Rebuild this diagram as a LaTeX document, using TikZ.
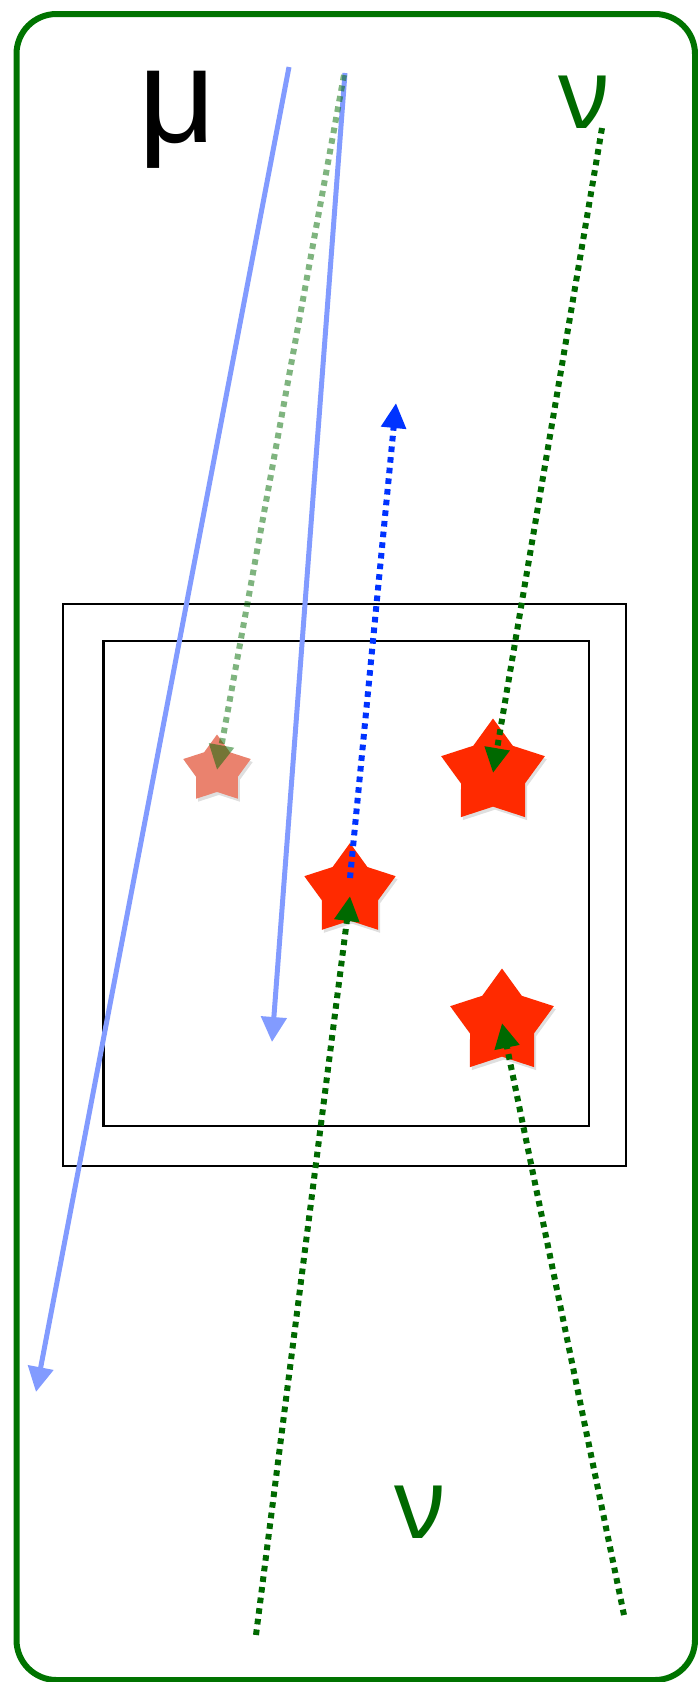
\documentclass[tikz,border=0pt]{standalone}
\usepackage{fontspec}
\setmainfont{Liberation Sans}
\newfontfamily\nufont{Noto Sans}
\usetikzlibrary{arrows.meta,shapes.geometric,shadows}
\definecolor{frameGreen}{RGB}{0,115,0}
\definecolor{nuGreen}{RGB}{0,105,0}
\definecolor{muBlue}{RGB}{130,155,255}
\definecolor{hitBlue}{RGB}{0,51,255}
\definecolor{hitRed}{RGB}{255,42,0}
\definecolor{fadeRed}{RGB}{234,130,110}
\begin{document}
\begin{tikzpicture}[x=1pt,y=-1pt,
          hit/.style={star,star points=5,star point ratio=1.62,inner sep=0pt,
                      fill=hitRed,drop shadow={shadow xshift=2pt,shadow yshift=-3pt,opacity=0.25}},
          mutrack/.style={muBlue,line width=5pt,-{Triangle[length=25pt,width=25pt]}},
          dotline/.style={line width=6pt,dash pattern=on 5.6pt off 5.1pt,-{Triangle[length=25pt,width=24pt]}},
          nutrack/.style={dotline,nuGreen},
          uptrack/.style={dotline,hitBlue},
          label/.style={anchor=base,inner sep=0pt}]
        \useasboundingbox (0,0) rectangle (697,1682);
        % frame
        \draw[frameGreen,line width=6pt,rounded corners=40pt] (16.5,14) rectangle (695,1680);
        % detector
        \draw[line width=2.5pt] (63,604) rectangle (626,1166);
        \draw[line width=2.5pt] (103.5,641) rectangle (589,1126);
        % hits
        \node[hit,fill=fadeRed,minimum size=71pt] (s1) at (217,770) {};
        \node[hit,minimum size=109pt] (s2) at (493,773) {};
        \node[hit,minimum size=96pt]  (s3) at (350,891) {};
        \node[hit,minimum size=109pt] (s4) at (502,1023) {};
        % labels
        \node[label,font=\fontsize{135}{140}\selectfont] (mu) at (177,142) {μ};
        \node[label,nuGreen,font=\nufont\fontsize{98}{100}\selectfont] (nuTop) at (584,128) {ν};
        \node[label,nuGreen,font=\nufont\fontsize{98}{100}\selectfont] (nuBot) at (420,1538) {ν};
        % track ends
        \coordinate (muA) at (289,67);
        \coordinate (muAend) at (36,1392);
        \coordinate (muB) at (345,73);
        \coordinate (muBend) at (272,1042);
        \coordinate (fadeIn) at (344,75);
        \coordinate (nuIn) at (602,128);
        \coordinate (upEnd) at (396,403);
        \coordinate (botL) at (256,1635);
        \coordinate (botR) at (624,1615);
        % tracks
        \draw[mutrack] (muA) -- (muAend);
        \draw[mutrack] (muB) -- (muBend);
        \begin{scope}[transparency group,opacity=0.5]
          \draw[nutrack] (fadeIn) -- (s1.center);
        \end{scope}
        \draw[nutrack] (nuIn) -- (s2.center);
        \draw[uptrack] ([yshift=13pt]s3.center) -- (upEnd);
        \draw[nutrack] (botL) -- ([yshift=-5pt]s3.center);
        \draw[nutrack] (botR) -- (s4.center);
      \end{tikzpicture}
\end{document}
